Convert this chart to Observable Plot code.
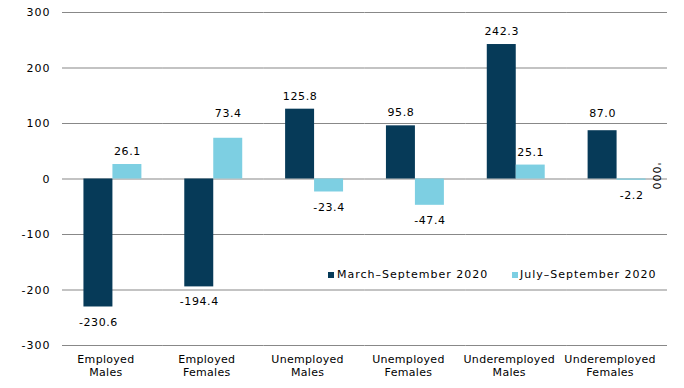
<!DOCTYPE html>
<html><head><meta charset="utf-8">
<script src="https://cdn.jsdelivr.net/npm/d3@7"></script>
<script src="https://cdn.jsdelivr.net/npm/@observablehq/plot@0.6"></script>
<style>
body{margin:0;background:#fff;font-family:"DejaVu Sans",sans-serif;}
#wrap{position:relative;width:684px;height:388px;}
.lg{position:absolute;font-size:11px;letter-spacing:1px;color:#000;white-space:nowrap;line-height:13px;}
.sw{position:absolute;width:6px;height:6px;}
.ylab{position:absolute;font-size:11px;letter-spacing:1px;transform:rotate(90deg);transform-origin:center;white-space:nowrap;line-height:13px;}
[aria-label="fx-axis tick label"]{letter-spacing:0.3px;}
[aria-label="y-axis tick label"]{letter-spacing:1px;}
[aria-label="text"]{letter-spacing:0.6px;}
</style></head><body><div id="wrap"></div>
<script>
const categories = ["Employed Males","Employed Females","Unemployed Males","Unemployed Females","Underemployed Males","Underemployed Females"];
const seriesNames = ["March–September 2020","July–September 2020"];
const marchSep = [-230.6,-194.4,125.8,95.8,242.3,87.0];
const julySep = [26.1,73.4,-23.4,-47.4,25.1,-2.2];
const yTicks = [-300,-200,-100,0,100,200,300];
const colors = ["#063a58","#7dcfe2"];
const yTitle = "'000";

const H = 388, MT = 12, MB = 43;
const pxPerUnit = (H - MT - MB) / 600;

const data = categories.flatMap((c,i)=>[
  {cat:c, series:seriesNames[0], value:marchSep[i]},
  {cat:c, series:seriesNames[1], value:julySep[i]}
]);
// a positive label that would sit on a gridline is lifted above that gridline
function gridAbove(v){ return yTicks.find(t => t > v); }
function collides(d){
  if (d.value < 0) return false;
  const g = gridAbove(d.value);
  if (g === undefined) return false;
  const gapPx = (g - d.value) * pxPerUnit;
  return gapPx > 6 && gapPx < 20;
}

const chart = Plot.plot({
  width:684, height:H,
  marginTop:MT, marginBottom:MB, marginLeft:62, marginRight:17,
  style:{fontFamily:"DejaVu Sans", fontSize:"11px", color:"#000", background:"#fff"},
  fx:{domain:categories, padding:0, round:false, label:null, axis:null},
  x:{domain:seriesNames, paddingInner:0, paddingOuter:0.74, round:false, axis:null},
  y:{domain:[-300,300], axis:null},
  color:{domain:seriesNames, range:colors},
  marks:[
    Plot.ruleY(yTicks,{stroke:"#888", strokeWidth:1.2}),
    Plot.axisY(yTicks,{tickSize:0, tickPadding:12, label:null, tickFormat:d=>String(d), fill:"#000"}),
    Plot.axisFx({anchor:"bottom", tickSize:0, tickPadding:8, lineHeight:1.2, dx:-7, label:null, tickFormat:d=>d.replace(" ","\n"), fill:"#000"}),
    Plot.barY(data,{fx:"cat", x:"series", y:"value", fill:"series", inset:0}),
    Plot.text(data,{filter:d=>d.value>=0 && !collides(d), fx:"cat", x:"series", y:"value", text:d=>d.value.toFixed(1), dy:-13, fill:"#000"}),
    Plot.text(data,{filter:d=>collides(d), fx:"cat", x:"series", y:d=>gridAbove(d.value), text:d=>d.value.toFixed(1), dy:-10, fill:"#000"}),
    Plot.text(data,{filter:d=>d.value<0, fx:"cat", x:"series", y:"value", text:d=>d.value.toFixed(1), dy:15, fill:"#000"})
  ]
});
const wrap = document.getElementById("wrap");
wrap.appendChild(chart);

function addSwatch(x,y,c){const s=document.createElement("div");s.className="sw";s.style.left=x+"px";s.style.top=y+"px";s.style.background=c;wrap.appendChild(s);}
function addText(x,y,t){const s=document.createElement("div");s.className="lg";s.style.left=x+"px";s.style.top=y+"px";s.textContent=t;wrap.appendChild(s);}
addSwatch(328,272,colors[0]); addText(337,268,seriesNames[0]);
addSwatch(512,272,colors[1]); addText(520,268,seriesNames[1]);
const yl=document.createElement("div");yl.className="ylab";yl.textContent=yTitle;yl.style.left="642px";yl.style.top="170px";wrap.appendChild(yl);
</script>
</body></html>
